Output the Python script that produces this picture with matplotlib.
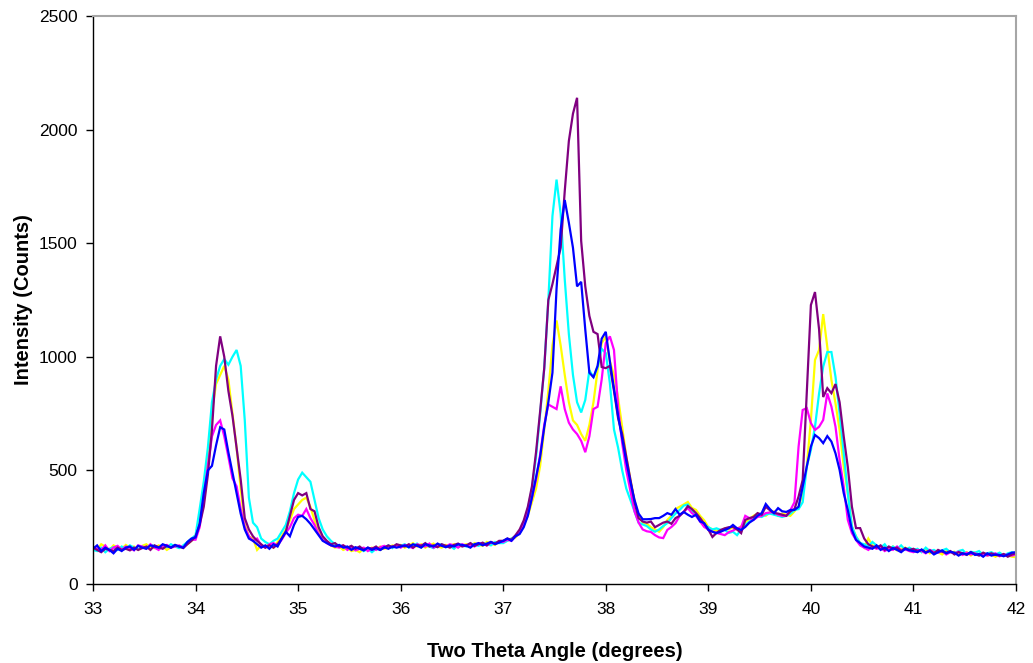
import numpy as np
import matplotlib
matplotlib.use("Agg")
import matplotlib.pyplot as plt

plt.rcParams['font.family'] = ['Liberation Sans', 'DejaVu Sans']

# two-theta grid: 33.00 .. 42.00 in 0.04 degree steps (226 points)
two_theta = np.round(33.0 + 0.04 * np.arange(226), 2)

yellow = [
    160,150,175,165,150,170,160,155,172,160,165,150,168,175,160,158,170,165,150,162,172,160,168,175,190,
    205,280,400,560,760,880,920,960,900,750,600,420,260,210,200,150,170,165,175,160,185,210,240,280,330,
    350,370,380,340,280,230,200,185,170,160,165,150,158,145,150,140,155,150,160,150,165,155,160,170,165,
    172,160,168,180,165,175,160,170,178,165,160,172,168,175,162,170,175,165,180,172,168,185,178,172,188,
    185,190,200,205,225,260,300,360,420,520,680,850,1050,1160,1050,920,800,720,700,660,630,700,800,940,1060,
    1090,980,920,820,690,560,460,370,300,270,265,250,240,230,250,282,300,330,340,350,361,335,326,300,280,
    250,240,235,230,245,240,250,240,255,270,285,300,310,305,300,315,320,300,310,305,300,320,340,400,517,
    722,986,1030,1188,1044,898,795,678,517,400,253,209,180,160,200,170,165,155,160,150,165,148,155,160,145,
    148,150,142,155,135,145,140,130,145,138,142,128,135,140,125,138,130,135,125,130,120,132,128,125,120,
    118]

cyan = [
    150,145,160,140,155,162,150,165,155,170,160,152,165,158,172,168,155,170,162,175,165,158,170,185,200,
    215,330,450,600,800,900,960,990,965,1000,1030,960,720,380,270,250,200,185,175,190,200,230,260,320,400,
    460,490,470,450,370,290,240,210,190,175,170,165,155,160,150,158,145,155,140,155,150,160,170,158,172,
    168,175,160,170,178,162,172,165,158,170,175,162,168,155,172,170,165,178,172,168,180,175,170,185,180,
    180,190,200,210,230,270,330,420,560,750,950,1250,1620,1780,1630,1340,1100,920,800,755,810,940,910,955,1035,
    1016,884,680,600,500,420,370,320,270,262,255,240,230,240,255,268,290,310,326,345,350,320,300,280,260,
    250,240,245,238,238,225,230,215,240,260,275,285,300,295,305,310,305,300,295,300,310,326,330,360,517,
    590,692,839,957,1021,1021,912,751,575,400,253,209,180,175,165,185,170,160,175,150,165,155,170,150,160,
    150,155,140,160,145,150,138,148,155,140,135,145,150,130,142,138,145,128,135,140,130,138,125,135,140,
    132]

magenta = [
    165,155,150,170,145,160,168,150,165,158,148,170,165,155,175,160,150,168,172,160,165,170,160,180,195,
    195,250,380,520,650,700,720,650,560,465,430,330,250,210,190,200,170,160,175,180,170,195,225,250,290,
    305,300,330,290,260,220,195,180,170,165,160,170,150,162,148,155,160,145,158,150,162,168,158,165,170,
    160,172,165,158,175,170,165,178,160,168,172,165,175,170,160,175,168,172,165,180,175,170,182,178,185,
    185,195,190,210,225,260,310,380,460,570,700,790,780,770,870,770,710,680,660,630,580,650,770,780,900,
    1060,1090,1030,780,620,500,410,320,270,240,232,229,215,205,202,238,251,268,300,318,334,312,300,275,251,
    240,230,225,220,215,228,235,245,250,300,290,282,295,300,312,315,317,305,300,300,325,360,605,766,774,
    708,678,692,722,839,781,692,546,429,282,224,194,170,160,150,165,155,160,145,155,150,165,148,152,145,
    140,150,145,135,150,140,138,145,130,140,135,142,128,138,130,135,128,132,125,130,135,122,130,128,125,
    130]

purple = [
    160,150,140,155,150,145,160,150,155,148,160,150,158,165,150,170,162,155,168,160,170,165,158,175,190,
    210,260,340,480,680,960,1090,1000,850,740,600,460,290,240,210,190,175,160,170,160,175,200,230,300,370,
    400,390,400,330,320,250,210,190,175,180,165,170,160,168,155,165,150,160,155,165,150,160,170,162,175,
    170,165,175,160,172,168,180,165,170,162,175,168,160,172,178,165,170,180,168,175,182,170,185,178,190,
    190,200,195,215,240,280,340,430,580,760,950,1250,1320,1400,1480,1730,1950,2070,2140,1510,1310,1180,1110,1100,955,
    950,960,850,730,660,560,460,360,290,275,270,275,250,260,270,275,265,290,300,317,343,330,312,290,265,
    240,207,225,238,245,250,251,240,224,282,290,295,312,305,340,325,312,310,305,300,320,330,385,458,840,
    1228,1285,1120,823,862,840,880,800,650,515,340,246,246,200,175,165,160,170,150,165,155,160,145,158,150,
    155,145,150,140,148,135,150,142,138,145,130,140,135,128,140,132,125,138,130,135,128,125,132,120,130,
    135]

blue = [
    155,170,145,160,150,135,155,145,160,165,150,168,160,155,170,165,160,175,168,160,172,165,160,185,200,
    205,265,400,500,520,610,690,680,580,490,400,310,240,200,190,175,160,170,155,175,165,200,230,210,260,
    295,300,285,265,240,215,190,180,170,165,172,160,165,150,162,155,148,160,150,158,150,162,155,165,160,
    165,170,162,175,168,160,175,170,165,178,168,162,170,165,175,172,168,160,175,180,170,178,185,175,182,
    190,200,190,210,220,250,300,380,470,560,690,800,930,1300,1560,1690,1590,1480,1310,1330,1120,930,910,960,1080,
    1110,980,860,740,640,540,450,370,310,285,285,286,290,290,300,312,305,330,305,317,305,295,305,275,268,
    238,230,224,230,238,245,260,245,238,251,270,282,300,312,352,330,312,334,320,317,326,326,340,429,517,
    605,656,642,620,651,627,575,502,400,326,238,194,180,165,160,155,170,150,160,145,158,150,140,155,148,
    145,140,152,138,145,130,140,148,135,142,138,125,135,130,140,128,132,120,135,125,130,128,122,130,138,
    140]

series_names = ["yellow", "cyan", "magenta", "purple", "blue"]
series_values = [yellow, cyan, magenta, purple, blue]
series_colors = ["#FFFF00", "#00FFFF", "#FF00FF", "#800080", "#0000FF"]

x_ticks = [33, 34, 35, 36, 37, 38, 39, 40, 41, 42]
y_ticks = [0, 500, 1000, 1500, 2000, 2500]

W, H = 1033, 663
fig = plt.figure(figsize=(W / 100, H / 100), dpi=100)
ax = fig.add_axes([93 / W, 1 - 584 / H, (1016 - 93) / W, (584 - 16) / H])

for vals, col in zip(series_values, series_colors):
    assert len(vals) == len(two_theta)
    ax.plot(two_theta, vals, color=col, linewidth=1.6, solid_joinstyle='miter')

ax.set_xlim(33, 42)
ax.set_ylim(0, 2500)
ax.set_xticks(x_ticks)
ax.set_yticks(y_ticks)
ax.tick_params(axis='both', direction='out', length=5, width=1, labelsize=12.5, colors='black')
ax.tick_params(axis='x', pad=8)
ax.tick_params(axis='y', pad=6)

for side in ['left', 'bottom']:
    ax.spines[side].set_color('black')
    ax.spines[side].set_linewidth(1.0)
for side in ['top', 'right']:
    ax.spines[side].set_color('#A6A6A6')
    ax.spines[side].set_linewidth(1.5)

ax.set_xlabel("Two Theta Angle (degrees)", fontsize=14.5, fontweight='bold', labelpad=18)
ax.set_ylabel("Intensity (Counts)", fontsize=14.5, fontweight='bold', labelpad=4)

fig.savefig("out.png", dpi=100)
